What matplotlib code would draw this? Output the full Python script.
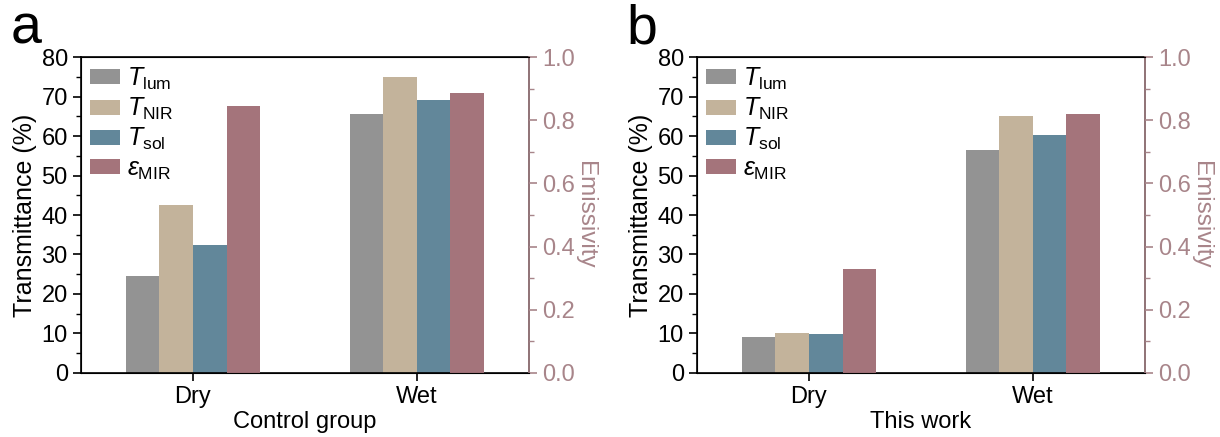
import matplotlib

matplotlib.use("Agg")
import matplotlib.pyplot as plt
import numpy as np

plt.rcParams["font.family"] = ["Liberation Sans", "DejaVu Sans"]
plt.rcParams["mathtext.fontset"] = "custom"
plt.rcParams["mathtext.rm"] = "Liberation Sans"
plt.rcParams["mathtext.it"] = "Liberation Sans:italic"

groups = ["Dry", "Wet"]
series = [r"$T_{\mathrm{lum}}$", r"$T_{\mathrm{NIR}}$", r"$T_{\mathrm{sol}}$", r"$\varepsilon_{\mathrm{MIR}}$"]
colors = ["#939393", "#c3b39b", "#62879a", "#a4747b"]

# transmittance (%) for T_lum, T_NIR, T_sol; emissivity for eps_MIR
ctrl_T = [[24.5, 65.5], [42.5, 75.0], [32.5, 69.2]]
ctrl_eps = [0.845, 0.885]
work_T = [[9.2, 56.4], [10.2, 65.1], [9.8, 60.3]]
work_eps = [0.329, 0.82]

EMIS = "#a8858a"
W = 0.15


def panel(fig, rect, trans, eps, xlabel, letter):
    ax = fig.add_axes(rect)
    ax2 = ax.twinx()
    x = np.arange(len(groups))
    offs = (np.arange(4) - 1.5) * W
    handles = []
    for i in range(3):
        h = ax.bar(x + offs[i], trans[i], W, color=colors[i], label=series[i])
        handles.append(h)
    h = ax2.bar(x + offs[3], eps, W, color=colors[3], label=series[3])
    handles.append(h)

    ax.set_xlim(-0.5, 1.5)
    ax.set_ylim(0, 80)
    ax2.set_ylim(0, 1.0)
    ax.set_xticks(x)
    ax.set_xticklabels(groups)
    ax.set_yticks(np.arange(0, 81, 10))
    ax.set_yticks(np.arange(5, 80, 10), minor=True)
    ax2.set_yticks(np.arange(0, 1.01, 0.2))
    ax2.set_yticks(np.arange(0.1, 1.0, 0.2), minor=True)
    ax2.yaxis.set_major_formatter(matplotlib.ticker.FormatStrFormatter("%.1f"))

    ax.tick_params(axis="both", which="major", labelsize=17, length=6, width=1.2, direction="out")
    ax.tick_params(axis="y", which="minor", length=3.5, width=1.0)
    ax.tick_params(axis="x", which="minor", bottom=False)
    ax2.tick_params(axis="y", which="major", labelsize=17, length=6, width=1.2,
                    colors=EMIS)
    ax2.tick_params(axis="y", which="minor", length=3.5, width=1.0, colors=EMIS)
    for s in ax.spines.values():
        s.set_linewidth(1.2)
    ax2.spines["right"].set_color(EMIS)
    ax2.spines["right"].set_linewidth(1.2)

    ax.set_ylabel("Transmittance (%)", fontsize=18, labelpad=3)
    ax2.set_ylabel("Emissivity", fontsize=17.5, color=EMIS, rotation=270, labelpad=15)
    ax.set_xlabel(xlabel, fontsize=17, labelpad=2)

    ax2.legend(handles=handles, loc="upper left", fontsize=18, frameon=False,
               handlelength=1.2, handleheight=0.55, handletextpad=0.3,
               labelspacing=0.16, borderpad=0.15, borderaxespad=0.2,
               bbox_to_anchor=(0.0, 1.0))
    fig.text(rect[0] - 0.058, 0.90, letter, fontsize=40, ha="left", va="baseline")


fig = plt.figure(figsize=(12.2, 4.37), dpi=100)
panel(fig, [0.0664, 0.1465, 0.367, 0.723], ctrl_T, ctrl_eps, "Control group", "a")
panel(fig, [0.5713, 0.1465, 0.367, 0.723], work_T, work_eps, "This work", "b")
fig.savefig("out.png", dpi=100)
